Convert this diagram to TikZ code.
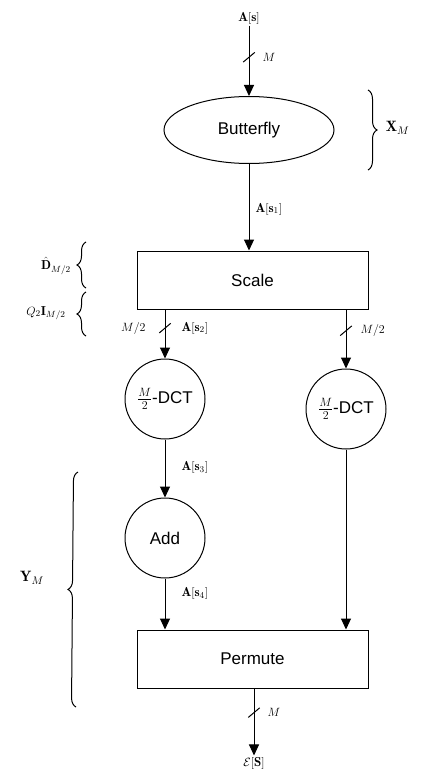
\documentclass[tikz,border=0pt]{standalone}
\usepackage{amsmath,amssymb}
\usepackage{fontspec}
\newfontfamily\boxfont{Liberation Sans}
\usetikzlibrary{shapes,arrows.meta,positioning,calc,decorations.pathreplacing}

\begin{document}
\begin{tikzpicture}[x=1pt,y=-1pt,line width=1pt,
    blk/.style={draw,rectangle,minimum width=231pt,minimum height=58pt,font=\boxfont\fontsize{17}{19}\selectfont},
    op/.style={draw,circle,minimum size=80pt,inner sep=0pt,font=\boxfont\fontsize{17}{19}\selectfont},
    arr/.style={-{Triangle[length=11pt,width=10pt]}},
    bus/.style={draw,minimum width=15pt,minimum height=0pt,inner sep=0pt,rotate=40},
    lbl/.style={font=\fontsize{13}{15}\selectfont,inner sep=1pt},
    brc/.style={decorate,decoration={brace,amplitude=9pt}}]
    \useasboundingbox (0,0) rectangle (427,773);

    % blocks
    \node[draw,ellipse,minimum width=170pt,minimum height=67pt,font=\boxfont\fontsize{17}{19}\selectfont] (bfly) at (249,130) {Butterfly};
    \node[blk] (scale) at (252.5,280) {Scale};
    \node[op] (dctl) at (165,399) {$\frac{M}{2}$-DCT};
    \node[op] (dctr) at (346,409) {$\frac{M}{2}$-DCT};
    \node[op] (add) at (165,538) {Add};
    \node[blk] (perm) at (252.5,659) {Permute};

    % input and output
    \node[lbl] (ain) at (249,18) {$\mathbf{A}[\mathbf{s}]$};
    \node[lbl] (eout) at (254,763) {$\mathcal{E}[\mathbf{S}]$};

    % signal flow
    \draw[arr] (ain) -- node[pos=.45,bus]{} node[pos=.45,lbl,right=12pt]{$M$} (bfly);
    \draw[arr] (bfly) -- node[pos=.52,lbl,right=5pt]{$\mathbf{A}[\mathbf{s}_1]$} (bfly |- scale.north);
    \draw[arr] (dctl.north |- scale.south) -- node[pos=.38,bus]{} node[pos=.38,lbl,left=18pt]{$M/2$}
        node[pos=.38,lbl,right=15pt]{$\mathbf{A}[\mathbf{s}_2]$} (dctl);
    \draw[arr] (dctr.north |- scale.south) -- node[pos=.36,bus]{} node[pos=.36,lbl,right=13pt]{$M/2$} (dctr);
    \draw[arr] (dctl) -- node[pos=.49,lbl,right=15pt]{$\mathbf{A}[\mathbf{s}_3]$} (add);
    \draw[arr] (add) -- node[pos=.3,lbl,right=15pt]{$\mathbf{A}[\mathbf{s}_4]$} (add |- perm.north);
    \draw[arr] (dctr) -- (dctr |- perm.north);
    \draw[arr] (perm.south -| eout) -- node[pos=.36,bus]{} node[pos=.36,lbl,right=12pt]{$M$} (eout);

    % braces
    \draw[brc] (368,90) -- (368,170);
    \node[anchor=west,font=\fontsize{15}{17}\selectfont] (xm) at (382,128) {$\mathbf{X}_M$};
    \draw[brc] (86,288) -- (86,242);
    \node[lbl] (dhat) at (56,266) {$\hat{\mathbf{D}}_{M/2}$};
    \draw[brc] (86,336) -- (86,292);
    \node[lbl] (qi) at (46,313) {$Q_2\mathbf{I}_{M/2}$};
    \draw[brc] (76,707) -- (78,472);
    \node[font=\fontsize{15}{17}\selectfont] (ym) at (32,578) {$\mathbf{Y}_M$};
\end{tikzpicture}
\end{document}
